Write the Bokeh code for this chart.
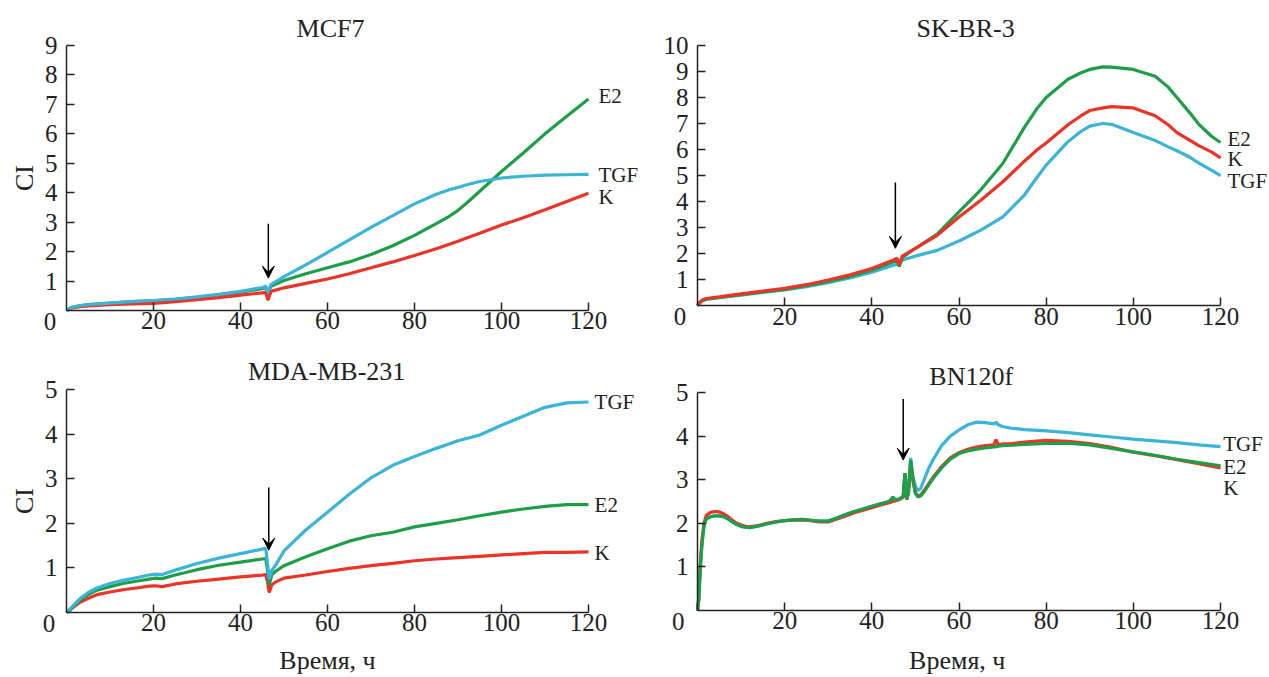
import math
from bokeh.plotting import figure
from bokeh.models import Range1d, FixedTicker, Label, Arrow, VeeHead
from bokeh.layouts import column, row
from bokeh.embed import file_html
from bokeh.resources import INLINE

# ---------------- data ----------------
GREEN = "#1f9e48"
RED = "#ec3327"
CYAN = "#3cb4d7"

# MCF7
x1 = [0, 1, 3, 5, 10, 15, 20, 25, 30, 35, 40, 45, 45.8, 46.3, 47, 50, 55, 60, 65, 70, 75, 80, 85, 88, 90, 92, 95, 100, 105, 110, 115, 120]
k1 = [0, 0.08, 0.13, 0.16, 0.2, 0.22, 0.24, 0.3, 0.37, 0.44, 0.52, 0.6, 0.62, 0.35, 0.65, 0.77, 0.92, 1.07, 1.25, 1.45, 1.65, 1.87, 2.1, 2.25, 2.35, 2.46, 2.62, 2.9, 3.15, 3.42, 3.7, 3.98]
e1 = [0, 0.1, 0.16, 0.2, 0.25, 0.3, 0.33, 0.38, 0.45, 0.53, 0.62, 0.74, 0.78, 0.6, 0.82, 1.02, 1.25, 1.45, 1.65, 1.9, 2.2, 2.55, 2.95, 3.2, 3.4, 3.65, 4.05, 4.72, 5.35, 6.0, 6.6, 7.18]
t1 = [0, 0.1, 0.16, 0.2, 0.25, 0.3, 0.34, 0.39, 0.46, 0.55, 0.65, 0.78, 0.82, 0.62, 0.88, 1.15, 1.55, 1.97, 2.4, 2.82, 3.22, 3.62, 3.95, 4.1, 4.18, 4.27, 4.38, 4.5, 4.56, 4.6, 4.61, 4.62]

# SK-BR-3
x2 = [0, 0.5, 1, 2, 5, 10, 15, 20, 25, 30, 35, 40, 45, 45.8, 46.3, 47, 50, 55, 60, 65, 70, 75, 78, 80, 85, 88, 90, 93, 95, 100, 105, 108, 110, 113, 115, 118, 120]
k2 = [0, 0.12, 0.2, 0.27, 0.33, 0.45, 0.55, 0.66, 0.8, 0.98, 1.18, 1.42, 1.75, 1.82, 1.55, 1.9, 2.2, 2.7, 3.4, 4.05, 4.75, 5.55, 6.0, 6.25, 6.95, 7.3, 7.5, 7.6, 7.65, 7.6, 7.3, 6.95, 6.65, 6.35, 6.15, 5.9, 5.68]
e2 = [0, 0.1, 0.18, 0.25, 0.31, 0.42, 0.52, 0.62, 0.76, 0.93, 1.12, 1.36, 1.68, 1.72, 1.5, 1.85, 2.2, 2.75, 3.6, 4.45, 5.45, 6.85, 7.6, 8.0, 8.7, 8.95, 9.08, 9.18, 9.17, 9.08, 8.82, 8.4, 8.0, 7.4, 6.97, 6.5, 6.27]
t2 = [0, 0.1, 0.17, 0.23, 0.3, 0.4, 0.5, 0.6, 0.72, 0.88, 1.06, 1.28, 1.55, 1.6, 1.65, 1.75, 1.9, 2.12, 2.48, 2.9, 3.4, 4.25, 4.95, 5.4, 6.3, 6.7, 6.9, 7.0, 6.97, 6.65, 6.35, 6.1, 5.95, 5.7, 5.48, 5.2, 5.0]

# MDA-MB-231
x3 = [0, 1, 2, 3, 5, 7, 10, 13, 16, 19, 20.5, 22, 25, 30, 35, 40, 45, 45.8, 46.2, 46.6, 47.2, 48, 50, 55, 60, 65, 70, 75, 80, 85, 90, 95, 100, 105, 110, 115, 120]
t3 = [0, 0.1, 0.2, 0.3, 0.45, 0.55, 0.65, 0.72, 0.78, 0.84, 0.86, 0.85, 0.95, 1.1, 1.22, 1.32, 1.42, 1.44, 1.1, 0.75, 0.95, 1.05, 1.38, 1.85, 2.25, 2.65, 3.02, 3.3, 3.5, 3.68, 3.85, 3.98, 4.2, 4.4, 4.6, 4.7, 4.72]
e3 = [0, 0.08, 0.18, 0.27, 0.4, 0.5, 0.58, 0.65, 0.7, 0.75, 0.77, 0.76, 0.84, 0.96, 1.06, 1.13, 1.2, 1.21, 0.95, 0.62, 0.85, 0.92, 1.05, 1.25, 1.43, 1.6, 1.72, 1.8, 1.92, 2.0, 2.08, 2.17, 2.25, 2.32, 2.38, 2.42, 2.42]
k3 = [0, 0.07, 0.15, 0.22, 0.32, 0.4, 0.46, 0.51, 0.55, 0.59, 0.6, 0.58, 0.64, 0.7, 0.75, 0.8, 0.84, 0.85, 0.7, 0.45, 0.62, 0.68, 0.77, 0.84, 0.92, 0.99, 1.05, 1.1, 1.16, 1.2, 1.23, 1.26, 1.29, 1.32, 1.35, 1.35, 1.36]

# BN120f
x4 = [0, 0.3, 0.6, 1, 1.5, 2, 3, 4, 5, 6, 7, 8, 9, 10, 11, 12, 14, 16, 18, 20, 22, 24, 26, 28, 30, 32, 34, 36, 38, 40, 42, 44, 44.8, 45.5, 46.5, 47.2, 47.6, 48, 48.4, 48.9, 49.4, 50, 50.6, 51.2, 52, 53, 54, 56, 58, 60, 62, 64, 66, 68, 68.5, 69, 70, 72, 75, 80, 85, 90, 95, 100, 105, 110, 115, 120]
k4 = [0, 0.3, 1.0, 1.6, 2.0, 2.18, 2.25, 2.27, 2.26, 2.22, 2.15, 2.07, 2.0, 1.96, 1.93, 1.92, 1.95, 2.0, 2.04, 2.06, 2.07, 2.08, 2.06, 2.03, 2.03, 2.1, 2.17, 2.24, 2.3, 2.36, 2.42, 2.47, 2.5, 2.52, 2.55, 2.6, 3.15, 2.55, 2.7, 3.4, 3.0, 2.7, 2.62, 2.65, 2.75, 2.9, 3.05, 3.3, 3.5, 3.62, 3.7, 3.75, 3.78, 3.8, 3.92, 3.8, 3.82, 3.83, 3.86, 3.9, 3.88, 3.83, 3.74, 3.63, 3.55, 3.46, 3.37, 3.27]
e4 = [0, 0.25, 0.9, 1.5, 1.95, 2.1, 2.15, 2.17, 2.17, 2.15, 2.1, 2.03, 1.97, 1.93, 1.91, 1.9, 1.94, 1.99, 2.03, 2.06, 2.08, 2.09, 2.07, 2.05, 2.05, 2.12, 2.2, 2.27, 2.33, 2.39, 2.45, 2.5, 2.6, 2.53, 2.57, 2.62, 3.15, 2.55, 2.7, 3.45, 3.0, 2.68, 2.6, 2.63, 2.72, 2.87, 3.02, 3.27, 3.47, 3.6, 3.66, 3.7, 3.73, 3.75, 3.76, 3.77, 3.78, 3.79, 3.81, 3.83, 3.84, 3.8, 3.72, 3.64, 3.56, 3.47, 3.39, 3.32]
t4 = [0, 0.25, 0.9, 1.5, 1.95, 2.1, 2.15, 2.17, 2.17, 2.15, 2.1, 2.03, 1.97, 1.93, 1.91, 1.9, 1.94, 1.99, 2.03, 2.06, 2.08, 2.09, 2.07, 2.05, 2.05, 2.12, 2.2, 2.27, 2.33, 2.39, 2.45, 2.5, 2.6, 2.53, 2.57, 2.62, 3.15, 2.55, 2.75, 3.5, 3.1, 2.85, 2.75, 2.8, 3.0, 3.25, 3.45, 3.78, 4.0, 4.14, 4.26, 4.32, 4.31, 4.28, 4.32, 4.26, 4.22, 4.18, 4.15, 4.12, 4.08, 4.03, 3.98, 3.93, 3.89, 3.85, 3.8, 3.76]

titles = ["MCF7", "SK-BR-3", "MDA-MB-231", "BN120f"]
series_names = ["E2", "TGF", "K"]
x_ticks = [20, 40, 60, 80, 100, 120]
y_ticks_1 = [1, 2, 3, 4, 5, 6, 7, 8, 9]
y_ticks_2 = [1, 2, 3, 4, 5, 6, 7, 8, 9, 10]
y_ticks_3 = [1, 2, 3, 4, 5]
y_label = "CI"
x_label = "Время, ч"

SERIF = "Liberation Serif"
INK = "#222222"


def panel(w, h, xr, yr, ymax, yticks):
    p = figure(width=w, height=h, x_range=Range1d(*xr), y_range=Range1d(*yr),
               output_backend="svg", toolbar_location=None,
               min_border_left=0, min_border_right=0, min_border_top=0, min_border_bottom=0)
    p.outline_line_color = None
    p.grid.visible = False
    p.background_fill_color = "white"
    p.border_fill_color = "white"
    for ax in (p.xaxis[0], p.yaxis[0]):
        ax.fixed_location = 0
        ax.axis_line_color = INK
        ax.axis_line_width = 1.5
        ax.major_tick_line_color = INK
        ax.major_tick_line_width = 1.5
        ax.major_tick_in = 8
        ax.major_tick_out = 0
        ax.minor_tick_line_color = None
        ax.major_label_text_font = SERIF
        ax.major_label_text_font_size = "25px"
        ax.major_label_text_color = INK
    p.xaxis.bounds = (0, 120)
    p.yaxis.bounds = (0, ymax)
    p.xaxis.ticker = FixedTicker(ticks=x_ticks)
    p.xaxis.major_label_standoff = 2
    p.yaxis.ticker = FixedTicker(ticks=yticks)
    p.yaxis.major_label_standoff = 9
    return p


def txt(p, x, y, s, size="21px", align="left", baseline="middle", angle=0.0):
    p.add_layout(Label(x=x, y=y, text=s, text_font=SERIF, text_font_size=size,
                       text_color=INK, text_align=align, text_baseline=baseline,
                       angle=angle))


def arrow(p, x, y0, y1):
    p.add_layout(Arrow(x_start=x, y_start=y0, x_end=x, y_end=y1, line_width=1.5,
                       line_color="black",
                       end=VeeHead(size=12, fill_color="black", line_color="black")))


LW = 3.2
XR_L = (-15.172, 131.954)   # left column canvas 0..640: axis 0..120 at px 66..588
XR_R = (-13.078, 131.24)    # right column canvas 640..1269: axis 0..120 at px 697..1220

# Panel 1  (canvas y 0..350, axis 0..9 at px 310..45)
p1 = panel(640, 350, XR_L, (-1.3585, 10.528), 9, y_ticks_1)
p1.line(x1, e1, line_color=GREEN, line_width=LW)
p1.line(x1, k1, line_color=RED, line_width=LW)
p1.line(x1, t1, line_color=CYAN, line_width=LW)
arrow(p1, 46.4, 2.95, 1.1)
txt(p1, 60.7, 9.58, titles[0], size="26px", align="center")
txt(p1, 122.3, 7.27, series_names[0])
txt(p1, 122.3, 4.59, series_names[1])
txt(p1, 122.3, 3.87, series_names[2])
txt(p1, -3.8, -0.07, "0", size="25px", align="center", baseline="top")
txt(p1, -9.7, 4.5, y_label, size="26px", align="center", angle=math.pi / 2)

# Panel 2  (axis 0..10 at px 305..45)
p2 = panel(629, 350, XR_R, (-1.7308, 11.731), 10, y_ticks_2)
p2.line(x2, t2, line_color=CYAN, line_width=LW)
p2.line(x2, e2, line_color=GREEN, line_width=LW)
p2.line(x2, k2, line_color=RED, line_width=LW)
arrow(p2, 45.4, 4.73, 2.2)
txt(p2, 61.5, 10.65, titles[1], size="26px", align="center")
txt(p2, 121.6, 6.42, series_names[0])
txt(p2, 121.6, 5.65, series_names[2])
txt(p2, 121.6, 4.8, series_names[1])
txt(p2, -4.0, -0.077, "0", size="25px", align="center", baseline="top")

# Panel 3  (canvas y 350..677, axis 0..5 at px 612..389)
p3 = panel(640, 327, XR_L, (-1.4574, 5.8744), 5, y_ticks_3)
p3.line(x3, k3, line_color=RED, line_width=LW)
p3.line(x3, e3, line_color=GREEN, line_width=LW)
p3.line(x3, t3, line_color=CYAN, line_width=LW)
arrow(p3, 46.5, 2.8, 1.4)
txt(p3, 59.8, 5.41, titles[2], size="26px", align="center")
txt(p3, 121.4, 4.72, series_names[1])
txt(p3, 121.4, 2.42, series_names[0])
txt(p3, 121.4, 1.34, series_names[2])
txt(p3, -4.0, -0.045, "0", size="25px", align="center", baseline="top")
txt(p3, 60, -1.08, x_label, size="26px", align="center")
txt(p3, -9.7, 2.5, y_label, size="26px", align="center", angle=math.pi / 2)

# Panel 4  (axis 0..5 at px 610..392)
p4 = panel(629, 327, XR_R, (-1.5367, 5.9633), 5, y_ticks_3)
p4.line(x4, t4, line_color=CYAN, line_width=LW)
p4.line(x4, k4, line_color=RED, line_width=LW)
p4.line(x4, e4, line_color=GREEN, line_width=LW)
arrow(p4, 47.2, 4.85, 3.45)
txt(p4, 62.8, 5.36, titles[3], size="26px", align="center")
txt(p4, 120.6, 3.82, series_names[1])
txt(p4, 120.6, 3.28, series_names[0])
txt(p4, 120.6, 2.8, series_names[2])
txt(p4, -4.4, -0.046, "0", size="25px", align="center", baseline="top")
txt(p4, 59.6, -1.15, x_label, size="26px", align="center")

layout = column(row(p1, p2), row(p3, p4))
open("out.html", "w").write(file_html(layout, INLINE))
